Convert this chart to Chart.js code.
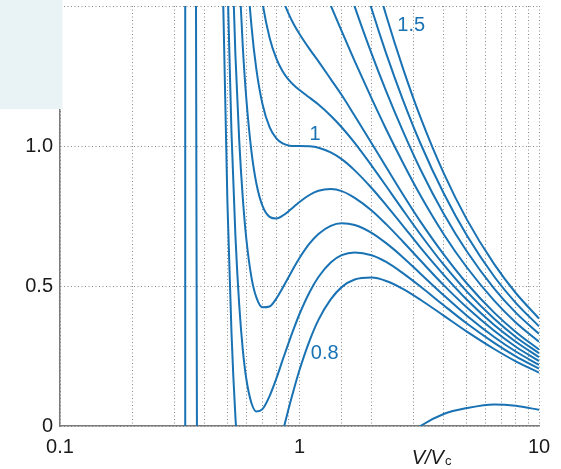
<!DOCTYPE html>
<html>
<head>
<meta charset="utf-8">
<script src="https://cdn.jsdelivr.net/npm/chart.js@4/dist/chart.umd.min.js"></script>
<style>
  html, body { margin: 0; padding: 0; background: #fff; }
</style>
</head>
<body>
<canvas id="isotherms" width="561" height="469"></canvas>
<script>
"use strict";

// reduced volume V/Vc (shared grid, every curve runs out to 10)
var volumes = [0.34, 0.35, 0.36, 0.37, 0.375, 0.38, 0.40, 0.42, 0.44, 0.46,
               0.48, 0.50, 0.52, 0.54, 0.56, 0.58, 0.60, 0.63, 0.66, 0.70,
               0.75, 0.80, 0.85, 0.90, 0.95, 1.0, 1.1, 1.2, 1.35, 1.5,
               1.7, 2.0, 2.3, 2.7, 3.2, 4, 5, 6.5, 8, 10];

// reduced pressure p/pc for each isotherm, aligned to the END of volumes
var pLow = [102.05, 26.71, 8.85, 1.36, -0.85, -2.50, -5.95, -7.16, -7.50, -7.44,
            -7.20, -6.88, -6.53, -6.16, -5.81, -5.46, -5.13, -4.68, -4.28, -3.79,
            -3.28, -2.86, -2.50, -2.19, -1.94, -1.72, -1.37, -1.10, -0.81, -0.60,
            -0.42, -0.24, -0.133, -0.051, 0.0, 0.043, 0.064, 0.077, 0.072, 0.058];
var p080 = [4.50, 2.66, 1.52, 0.80, 0.334, 0.034, -0.154, -0.269, -0.333, -0.368,
            -0.357, -0.304, -0.213, -0.116, -0.023, 0.061, 0.135, 0.200, 0.303, 0.379,
            0.452, 0.496, 0.523, 0.530, 0.518, 0.490, 0.451, 0.394, 0.337, 0.275, 0.231, 0.191];
var p085 = [5.75, 3.71, 2.43, 1.60, 1.048, 0.680, 0.434, 0.271, 0.167, 0.082,
            0.052, 0.060, 0.107, 0.169, 0.235, 0.296, 0.351, 0.400, 0.477, 0.532,
            0.584, 0.610, 0.620, 0.610, 0.586, 0.546, 0.498, 0.431, 0.366, 0.297, 0.249, 0.205];
var p090 = [4.77, 3.34, 2.40, 1.762, 1.325, 1.022, 0.812, 0.667, 0.531, 0.460,
            0.424, 0.427, 0.455, 0.493, 0.531, 0.568, 0.600, 0.651, 0.686, 0.715,
            0.724, 0.718, 0.690, 0.653, 0.603, 0.544, 0.467, 0.394, 0.318, 0.266, 0.218];
var p095 = [4.25, 3.20, 2.476, 1.970, 1.611, 1.352, 1.167, 0.981, 0.868, 0.787,
            0.747, 0.741, 0.751, 0.767, 0.784, 0.800, 0.825, 0.840, 0.846, 0.839,
            0.815, 0.770, 0.721, 0.659, 0.591, 0.503, 0.423, 0.340, 0.283, 0.232];
var p100 = [4.00, 3.191, 2.615, 2.199, 1.893, 1.667, 1.430, 1.276, 1.151, 1.067,
            1.027, 1.009, 1.002, 1.000, 1.000, 0.999, 0.994, 0.977, 0.953, 0.913,
            0.850, 0.789, 0.716, 0.637, 0.540, 0.451, 0.361, 0.301, 0.246];
var p105 = [3.905, 3.260, 2.787, 2.433, 2.167, 1.879, 1.684, 1.514, 1.387, 1.313,
            1.267, 1.237, 1.216, 1.200, 1.173, 1.148, 1.108, 1.067, 1.011, 0.930,
            0.857, 0.772, 0.684, 0.576, 0.480, 0.383, 0.318, 0.260];
var p110 = [3.376, 2.974, 2.667, 2.329, 2.092, 1.878, 1.707, 1.598, 1.525, 1.473,
            1.432, 1.400, 1.347, 1.302, 1.239, 1.182, 1.108, 1.010, 0.925, 0.828,
            0.730, 0.613, 0.509, 0.405, 0.336, 0.273];
var p120 = [2.169, 2.041, 1.943, 1.865, 1.800, 1.695, 1.609, 1.502, 1.410, 1.303,
            1.170, 1.060, 0.941, 0.823, 0.685, 0.566, 0.448, 0.370, 0.301];
var p130 = [2.200, 2.043, 1.917, 1.764, 1.639, 1.498, 1.330, 1.196, 1.054, 0.916,
            0.758, 0.623, 0.491, 0.405, 0.329];
var p140 = [2.225, 2.026, 1.867, 1.693, 1.490, 1.331, 1.166, 1.009, 0.831, 0.680,
            0.534, 0.440, 0.356];
var p150 = [2.289, 2.096, 1.889, 1.650, 1.467, 1.279, 1.102, 0.903, 0.737, 0.578,
            0.475, 0.384];

var isotherms = [pLow, p080, p085, p090, p095, p100, p105, p110, p120, p130, p140, p150];
var tempNames = ['0.32', '0.8', '0.85', '0.9', '0.95', '1', '1.05', '1.1', '1.2', '1.3', '1.4', '1.5'];

// b = Vc/3, the volume where every isotherm blows up
var asymptoteV = 0.3333;

var xTickLabels = [0.1, 1, 10];
var yTicks = [0, 0.5, 1.0];

var curveLabels = [
    { text: '1.5', v: 2.56, p: 1.43 },
    { text: '1',   v: 1.10, p: 1.04 },
    { text: '0.8', v: 1.115, p: 0.26 }
];

var lineBlue = '#1972b3';
var FONT = '"Liberation Sans", Arial, Helvetica, sans-serif';

function toPoints(pressures)
{
    var vs = volumes.slice(volumes.length - pressures.length);
    return vs.map(function(v, i){
        return { x: v, y: pressures[i] };
    });
}

var datasets = isotherms.map(function(p, i){
    return {
        label: 'T/Tc = ' + tempNames[i],
        data: toPoints(p),
        borderColor: lineBlue,
        borderWidth: 2,
        pointRadius: 0,
        cubicInterpolationMode: 'monotone',
        fill: false
    };
});

datasets.push({
    label: 'V = b',
    data: [{ x: asymptoteV, y: 0 }, { x: asymptoteV, y: 1.5 }],
    borderColor: lineBlue,
    borderWidth: 2,
    pointRadius: 0,
    fill: false
});

var extras = {
    id: 'extras',
    afterDraw: function(chart){
        var ctx = chart.ctx;
        var xs = chart.scales.x;
        var ys = chart.scales.y;
        ctx.save();

        ctx.fillStyle = lineBlue;
        ctx.font = '20px ' + FONT;
        ctx.textAlign = 'left';
        ctx.textBaseline = 'middle';
        curveLabels.forEach(function(l){
            ctx.fillText(l.text, xs.getPixelForValue(l.v), ys.getPixelForValue(l.p));
        });

        // axis title V/Vc with subscript
        ctx.fillStyle = '#1a1a1a';
        ctx.textBaseline = 'alphabetic';
        ctx.font = 'italic 20px ' + FONT;
        var tx = xs.getPixelForValue(2.94);
        ctx.fillText('V/V', tx, 464);
        var w = ctx.measureText('V/V').width;
        ctx.font = '13px ' + FONT;
        ctx.fillText('c', tx + w + 1, 465);

        // pale panel in the corner
        ctx.fillStyle = '#e9f3f6';
        ctx.fillRect(0, 0, 62.5, 109);
        ctx.restore();
    }
};

function isDecade(v)
{
    var l = Math.log10(v);
    return Math.abs(l - Math.round(l)) < 1e-6;
}

var chart = new Chart(document.getElementById('isotherms').getContext('2d'), {
    type: 'line',
    data: { datasets: datasets },
    options: {
        responsive: false,
        animation: false,
        layout: { padding: { top: 6, right: 22, left: 0, bottom: 0 } },
        plugins: {
            legend: { display: false },
            tooltip: { enabled: false }
        },
        scales: {
            x: {
                type: 'logarithmic',
                min: 0.1,
                max: 10,
                afterFit: function(scale){
                    scale.height = 43;
                    scale.paddingLeft = 0;
                    scale.paddingRight = 0;
                },
                grid: { color: '#8a8a8a', lineWidth: 1, drawTicks: false },
                border: { display: true, color: '#7a7a7a', width: 1.5, dash: [1, 2.5] },
                ticks: {
                    autoSkip: false,
                    maxRotation: 0,
                    padding: 9,
                    color: '#1a1a1a',
                    font: { size: 20, family: FONT },
                    callback: function(value){
                        return isDecade(value) && xTickLabels.indexOf(Math.round(value * 10) / 10) >= 0
                            ? String(Math.round(value * 10) / 10) : '';
                    }
                }
            },
            y: {
                type: 'linear',
                min: 0,
                max: 1.5,
                afterFit: function(scale){
                    scale.width = 60;
                    scale.paddingTop = 0;
                    scale.paddingBottom = 0;
                },
                grid: { color: '#8a8a8a', lineWidth: 1, drawTicks: false },
                border: { display: true, color: '#7a7a7a', width: 1.5, dash: [1, 2.5] },
                ticks: {
                    stepSize: 0.5,
                    padding: 7,
                    color: '#1a1a1a',
                    font: { size: 20, family: FONT },
                    callback: function(value){
                        if (yTicks.indexOf(value) < 0) return '';
                        return value === 0 ? '0' : value.toFixed(1);
                    }
                }
            }
        }
    },
    plugins: [extras]
});
</script>
</body>
</html>
